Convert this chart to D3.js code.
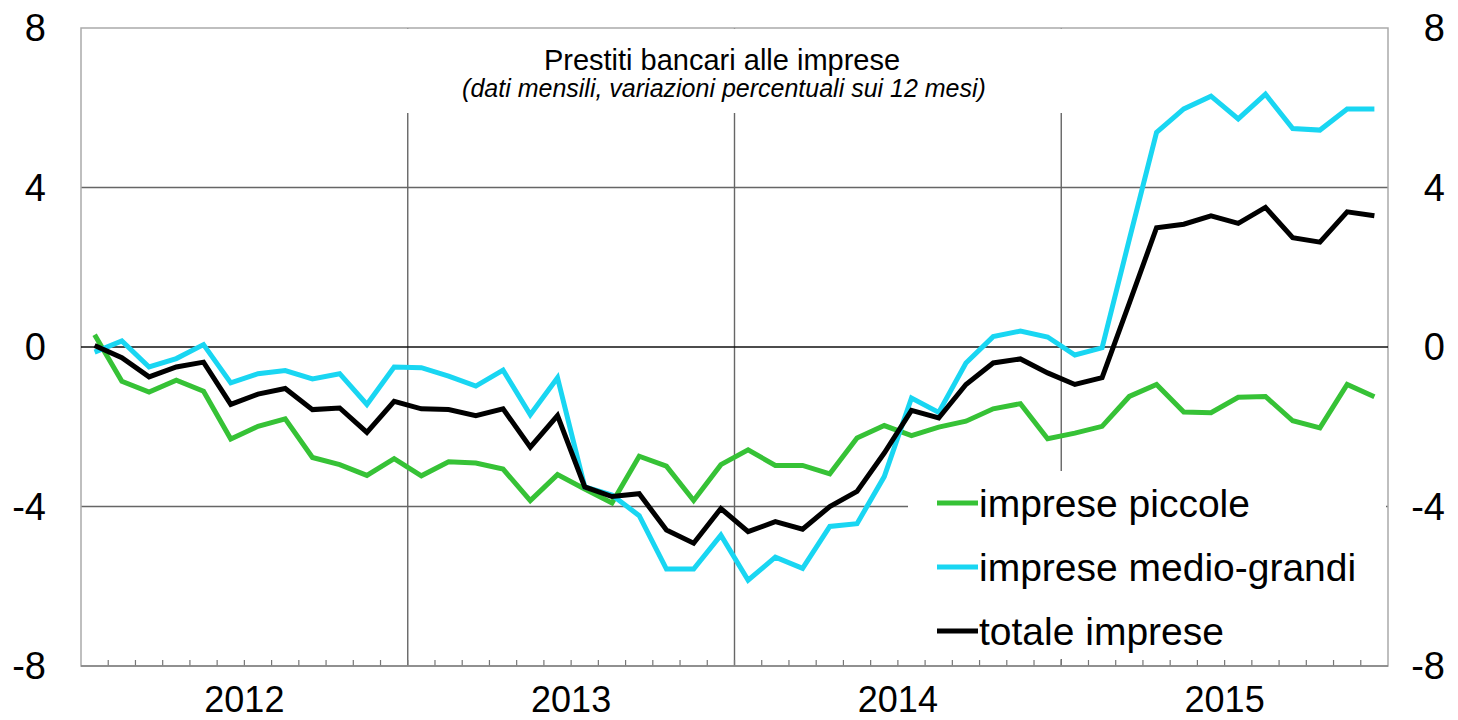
<!DOCTYPE html>
<html>
<head>
<meta charset="utf-8">
<script src="https://cdn.jsdelivr.net/npm/d3@7"></script>
<style>
  body { margin: 0; background: #fff; }
  svg { font-family: "Liberation Sans", Arial, sans-serif; }
</style>
</head>
<body>
<div id="chart"></div>
<script>
const width = 1458;
const height = 720;

const years = ["2012", "2013", "2014", "2015"];
const monthNames = ["gen", "feb", "mar", "apr", "mag", "giu", "lug", "ago", "set", "ott", "nov", "dic"];
const yTicks = [-8, -4, 0, 4, 8];

// imprese piccole
const piccole = [
    0.31, -0.86, -1.13, -0.83, -1.11, -2.31, -1.99, -1.80, -2.77, -2.95, -3.22, -2.80,
    -3.23, -2.88, -2.91, -3.06, -3.85, -3.20, -3.56, -3.91, -2.74, -2.99, -3.85, -2.95,
    -2.58, -2.97, -2.97, -3.18, -2.28, -1.97, -2.22, -2.01, -1.86, -1.55, -1.42, -2.30,
    -2.16, -1.99, -1.24, -0.94, -1.63, -1.65, -1.26, -1.24, -1.85, -2.03, -0.94, -1.25
];

// imprese medio-grandi
const medioGrandi = [
    -0.13, 0.15, -0.50, -0.29, 0.06, -0.90, -0.67, -0.59, -0.80, -0.67, -1.44, -0.50,
    -0.52, -0.73, -0.98, -0.58, -1.70, -0.77, -3.51, -3.71, -4.23, -5.57, -5.57, -4.72,
    -5.85, -5.27, -5.55, -4.50, -4.43, -3.25, -1.28, -1.64, -0.40, 0.26, 0.40, 0.25,
    -0.20, -0.02, 2.70, 5.38, 5.97, 6.29, 5.72, 6.34, 5.48, 5.44, 5.97, 5.97
];

// totale imprese
const totale = [
    0.04, -0.27, -0.75, -0.50, -0.38, -1.44, -1.18, -1.04, -1.57, -1.53, -2.14, -1.36,
    -1.55, -1.57, -1.72, -1.55, -2.51, -1.72, -3.51, -3.75, -3.68, -4.59, -4.92, -4.05,
    -4.63, -4.38, -4.57, -4.00, -3.62, -2.66, -1.59, -1.78, -0.94, -0.40, -0.30, -0.65,
    -0.94, -0.77, 1.10, 2.99, 3.08, 3.29, 3.10, 3.50, 2.74, 2.63, 3.39, 3.29
];

const months = [];
years.forEach(y => monthNames.forEach(m => months.push(m + " " + y)));

const series = [
    { name: "imprese piccole", values: piccole, color: "#36c236" },
    { name: "imprese medio-grandi", values: medioGrandi, color: "#19d6f2" },
    { name: "totale imprese", values: totale, color: "#000000" }
];

const svg = d3.select("#chart")
    .append("svg")
    .attr("width", width)
    .attr("height", height);

const x = d3.scaleBand().domain(months).range([81, 1388]);
const y = d3.scaleLinear().domain([-8, 8]).range([666, 28]);

const [x0, x1] = x.range();

// horizontal gridlines
svg.selectAll(".hgrid")
    .data(yTicks.filter(d => d !== 0 && d !== 8 && d !== -8))
    .enter().append("line")
    .attr("x1", x0).attr("x2", x1)
    .attr("y1", d => y(d)).attr("y2", d => y(d))
    .attr("stroke", "#666")
    .attr("stroke-width", 1.4);

// year separators
svg.selectAll(".vgrid")
    .data(years.slice(1))
    .enter().append("line")
    .attr("x1", d => x("gen " + d)).attr("x2", d => x("gen " + d))
    .attr("y1", y(8)).attr("y2", y(-8))
    .attr("stroke", "#666")
    .attr("stroke-width", 1.4);

// month ticks on the bottom axis
svg.selectAll(".mtick")
    .data(months.slice(1))
    .enter().append("line")
    .attr("x1", d => x(d)).attr("x2", d => x(d))
    .attr("y1", y(-8)).attr("y2", y(-8) - 6)
    .attr("stroke", "#777")
    .attr("stroke-width", 1.2);

// title box masks the gridlines
svg.append("rect")
    .attr("x", 250).attr("y", y(8) + 1)
    .attr("width", 900).attr("height", 84)
    .attr("fill", "#fff");

// frame
svg.append("rect")
    .attr("x", x0).attr("y", y(8))
    .attr("width", x1 - x0).attr("height", y(-8) - y(8))
    .attr("fill", "none")
    .attr("stroke", "#aaa")
    .attr("stroke-width", 1.5);

svg.append("line")
    .attr("x1", x0).attr("x2", x1)
    .attr("y1", y(-8)).attr("y2", y(-8))
    .attr("stroke", "#808080")
    .attr("stroke-width", 1.5);

// zero line
svg.append("line")
    .attr("x1", x0).attr("x2", x1)
    .attr("y1", y(0)).attr("y2", y(0))
    .attr("stroke", "#111")
    .attr("stroke-width", 1.6);

// series
const line = d3.line()
    .x((d, i) => x(months[i]) + x.bandwidth() / 2)
    .y(d => y(d));

svg.selectAll(".series")
    .data(series)
    .enter().append("path")
    .attr("d", d => line(d.values))
    .attr("fill", "none")
    .attr("stroke", d => d.color)
    .attr("stroke-width", 5)
    .attr("stroke-linejoin", "miter");

// legend
svg.append("rect")
    .attr("x", 908).attr("y", 471)
    .attr("width", 478).attr("height", 188)
    .attr("fill", "#fff");

const legend = svg.selectAll(".legend")
    .data(series)
    .enter().append("g")
    .attr("transform", (d, i) => `translate(937,${503 + i * 64})`);

legend.append("line")
    .attr("x1", 0).attr("x2", 41)
    .attr("stroke", d => d.color)
    .attr("stroke-width", 5);

legend.append("text")
    .attr("x", 42)
    .attr("dy", "0.35em")
    .attr("font-size", "39px")
    .attr("fill", "#000")
    .text(d => d.name);

// y labels, both sides
svg.selectAll(".ylab-left")
    .data(yTicks)
    .enter().append("text")
    .attr("x", 46)
    .attr("y", d => y(d))
    .attr("dy", "0.35em")
    .attr("text-anchor", "end")
    .attr("font-size", "38px")
    .text(d => d);

svg.selectAll(".ylab-right")
    .data(yTicks)
    .enter().append("text")
    .attr("x", 1445)
    .attr("y", d => y(d))
    .attr("dy", "0.35em")
    .attr("text-anchor", "end")
    .attr("font-size", "38px")
    .text(d => d);

// year labels
svg.selectAll(".year")
    .data(years)
    .enter().append("text")
    .attr("x", d => (x("gen " + d) + x("dic " + d) + x.bandwidth()) / 2)
    .attr("y", 712)
    .attr("text-anchor", "middle")
    .attr("font-size", "36px")
    .text(d => d);

// title
svg.append("text")
    .attr("x", 722)
    .attr("y", 70)
    .attr("text-anchor", "middle")
    .attr("font-size", "29px")
    .text("Prestiti bancari alle imprese");

svg.append("text")
    .attr("x", 724)
    .attr("y", 97)
    .attr("text-anchor", "middle")
    .attr("font-size", "25px")
    .attr("font-style", "italic")
    .text("(dati mensili, variazioni percentuali sui 12 mesi)");
</script>
</body>
</html>
